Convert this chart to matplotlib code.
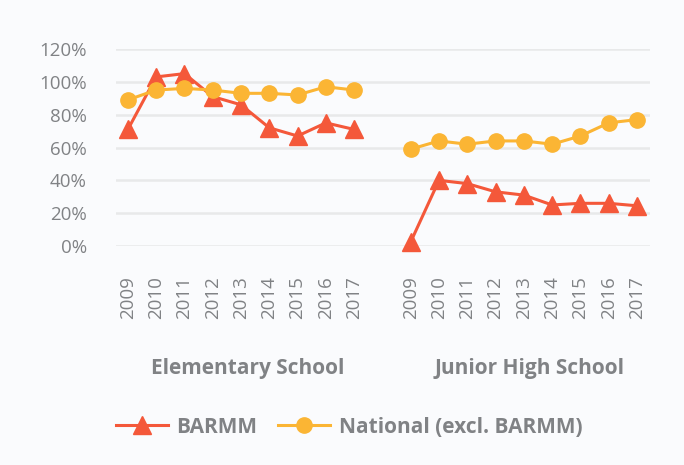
import matplotlib
matplotlib.use("Agg")
import matplotlib.pyplot as plt
from matplotlib.lines import Line2D

plt.rcParams['font.family'] = ['Open Sans', 'DejaVu Sans']

years = ["2009", "2010", "2011", "2012", "2013", "2014", "2015", "2016", "2017"]
groups = ["Elementary School", "Junior High School"]
barmm_elem = [0.71, 1.03, 1.05, 0.91, 0.86, 0.72, 0.67, 0.75, 0.71]
national_elem = [0.89, 0.95, 0.96, 0.95, 0.93, 0.93, 0.92, 0.97, 0.95]
barmm_jhs = [0.025, 0.40, 0.38, 0.33, 0.31, 0.25, 0.26, 0.26, 0.245]
national_jhs = [0.59, 0.64, 0.62, 0.64, 0.64, 0.62, 0.67, 0.75, 0.77]
yticks = [0, 0.2, 0.4, 0.6, 0.8, 1.0, 1.2]
ytick_labels = ["0%", "20%", "40%", "60%", "80%", "100%", "120%"]

RED = "#F4583A"
YEL = "#FBB534"
GRAY = "#808285"
BG = "#FAFBFD"

fig = plt.figure(figsize=(6.84, 4.65), dpi=100, facecolor=BG)
ax = fig.add_axes([116/684, 1-246/465, (650-116)/684, (246-49)/465], facecolor=BG)

x_elem = list(range(len(years)))
x_jhs = [i + len(years) + 1 for i in range(len(years))]

line_kw = dict(lw=2.2, clip_on=False, zorder=3)
ax.plot(x_elem, barmm_elem, color=RED, marker='^', ms=13, **line_kw)
ax.plot(x_jhs, barmm_jhs, color=RED, marker='^', ms=13, **line_kw)
ax.plot(x_elem, national_elem, color=YEL, marker='o', ms=11, **line_kw)
ax.plot(x_jhs, national_jhs, color=YEL, marker='o', ms=11, **line_kw)

ax.set_ylim(0, 1.2)
ax.set_xlim(-0.42, 18.46)
ax.set_yticks(yticks)
ax.set_yticklabels(ytick_labels, color=GRAY, fontsize=13.5)
ax.set_xticks(x_elem + x_jhs)
ax.set_xticklabels(years + years, rotation=90, color=GRAY, fontsize=13.5, va='top')
ax.tick_params(axis='both', length=0)
ax.tick_params(axis='y', pad=21)
ax.tick_params(axis='x', pad=22)
ax.grid(axis='y', color='#E8E9EA', lw=1.8, zorder=0)
ax.set_axisbelow(True)
for s in ax.spines.values():
    s.set_visible(False)

fig.text(248/684, 1-368/465, groups[0], ha='center', va='center', color=GRAY,
         fontsize=15, fontweight='bold')
fig.text(530/684, 1-368/465, groups[1], ha='center', va='center', color=GRAY,
         fontsize=15, fontweight='bold')

handles = [
    Line2D([], [], color=RED, marker='^', ms=13, lw=2.2),
    Line2D([], [], color=YEL, marker='o', ms=11, lw=2.2),
]
fig.legend(handles, ["BARMM", "National (excl. BARMM)"], loc='center',
           bbox_to_anchor=(349/684, 1-427/465), ncol=2, frameon=False,
           prop={'size': 15, 'weight': 'bold'}, labelcolor=GRAY,
           handlelength=2.5, handletextpad=0.4, columnspacing=1.0)

fig.savefig("out.png", dpi=100, facecolor=BG)
